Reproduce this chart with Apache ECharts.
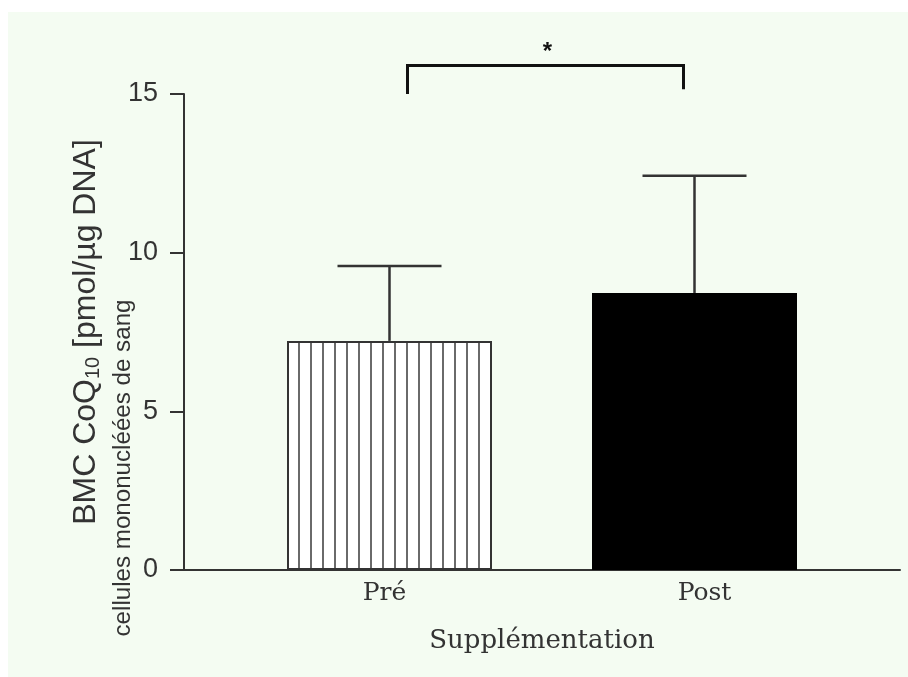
<!DOCTYPE html>
<html>
<head>
<meta charset="utf-8">
<script src="https://cdn.jsdelivr.net/npm/echarts@6/dist/echarts.min.js"></script>
<style>
  html, body { margin: 0; padding: 0; background: #fff; }
  #chart { width: 908px; height: 677px; }
</style>
</head>
<body>
<div id="chart"></div>
<script>
// données
const categories = ['Pré', 'Post']
const means = [7.22, 8.73]
const upperErr = [9.58, 12.42]
const yTicks = [0, 5, 10, 15]
// crochet de significativité : de Pré à Post, hauteur 15.9, pieds à 15
const sigBracket = [[0, 1, 15.9, 15.0, 15.15]]
const sigLabel = '*'

// hachures verticales pour la barre "Pré"
function stripePattern() {
  const c = document.createElement('canvas')
  c.width = 12
  c.height = 12
  const ctx = c.getContext('2d')
  ctx.fillStyle = '#ffffff'
  ctx.fillRect(0, 0, 12, 12)
  ctx.fillStyle = '#6a6a6a'
  ctx.fillRect(10, 0, 2, 12)
  return c
}

const chart = echarts.init(document.getElementById('chart'))

const grids = [
  { left: 184, right: 8, top: 94, bottom: 107 },
  { left: 237, right: 61, top: 94, bottom: 107 },
]

const option = {
  animation: false,
  graphic: [
    {
      type: 'rect',
      z: -10,
      shape: { x: 8, y: 12, width: 900, height: 665 },
      style: { fill: '#f4fcf2' },
    },
    {
      type: 'text',
      x: 86,
      y: 332,
      rotation: Math.PI / 2,
      style: {
        text: '{a|BMC CoQ}{s|10}{a| [pmol/µg DNA]}',
        textAlign: 'center',
        textVerticalAlign: 'middle',
        fill: '#333',
        rich: {
          a: { fontFamily: 'Liberation Sans', fontSize: 32, fill: '#333' },
          s: { fontFamily: 'Liberation Sans', fontSize: 20, fill: '#333', padding: [15, 0, 0, 0] },
        },
      },
    },
    {
      type: 'text',
      x: 124,
      y: 468,
      rotation: Math.PI / 2,
      scaleX: 1.05,
      style: {
        text: 'cellules mononucléées de sang',
        fontFamily: 'Liberation Sans',
        fontSize: 23,
        fill: '#333',
        textAlign: 'center',
        textVerticalAlign: 'middle',
      },
    },
  ],
  grid: grids,
  xAxis: [
    {
      type: 'value',
      gridIndex: 0,
      min: 0,
      max: 1,
      axisLine: { show: true, lineStyle: { color: '#333', width: 2 } },
      axisTick: { show: false },
      axisLabel: { show: false },
      splitLine: { show: false },
      name: 'Supplémentation',
      nameLocation: 'middle',
      nameGap: 58,
      nameTextStyle: { fontFamily: 'DejaVu Serif', fontSize: 26, color: '#333' },
    },
    {
      type: 'category',
      gridIndex: 1,
      data: categories,
      axisLine: { show: false },
      axisTick: { show: false },
      axisLabel: {
        margin: 11,
        formatter: (v, i) => (i === 0 ? '{pre|' + v + '}' : '{post|' + v + '}'),
        rich: {
          pre: { fontFamily: 'DejaVu Serif', fontSize: 25, color: '#333', padding: [0, 10, 0, 0] },
          post: { fontFamily: 'DejaVu Serif', fontSize: 25, color: '#333', padding: [0, 0, 0, 20] },
        },
      },
    },
  ],
  yAxis: [
    {
      type: 'value',
      gridIndex: 0,
      min: yTicks[0],
      max: yTicks[yTicks.length - 1],
      interval: 5,
      axisLine: { show: true, lineStyle: { color: '#333', width: 2 } },
      axisTick: { show: true, inside: false, length: 14, lineStyle: { color: '#333', width: 2 } },
      axisLabel: { margin: 26, fontFamily: 'Liberation Sans', fontSize: 27, color: '#333' },
      splitLine: { show: false },
    },
    {
      type: 'value',
      gridIndex: 1,
      min: yTicks[0],
      max: yTicks[yTicks.length - 1],
      interval: 5,
      show: false,
    },
  ],
  series: [
    {
      type: 'bar',
      xAxisIndex: 1,
      yAxisIndex: 1,
      barWidth: 205,
      data: [
        {
          value: means[0],
          itemStyle: {
            color: { image: stripePattern(), repeat: 'repeat' },
            borderColor: '#333',
            borderWidth: 2,
          },
        },
        { value: means[1], itemStyle: { color: '#000' } },
      ],
    },
    {
      // barres d'erreur (uniquement vers le haut)
      type: 'custom',
      xAxisIndex: 1,
      yAxisIndex: 1,
      z: 5,
      data: categories.map((c, i) => [i, means[i], upperErr[i]]),
      renderItem: (params, api) => {
        const base = api.coord([api.value(0), api.value(1)])
        const top = api.coord([api.value(0), api.value(2)])
        const half = 52
        const style = { stroke: '#333', lineWidth: 2.5 }
        return {
          type: 'group',
          children: [
            { type: 'line', shape: { x1: base[0], y1: base[1], x2: top[0], y2: top[1] }, style },
            { type: 'line', shape: { x1: top[0] - half, y1: top[1], x2: top[0] + half, y2: top[1] }, style },
          ],
        }
      },
    },
    {
      // crochet + astérisque
      type: 'custom',
      xAxisIndex: 1,
      yAxisIndex: 1,
      z: 5,
      clip: false,
      data: sigBracket,
      renderItem: (params, api) => {
        const l = api.coord([api.value(0), api.value(2)])
        const r = api.coord([api.value(1), api.value(2)])
        const lf = api.coord([api.value(0), api.value(3)])
        const rf = api.coord([api.value(1), api.value(4)])
        const x1 = l[0] + 18
        const x2 = r[0] - 11
        const style = { stroke: '#111', lineWidth: 3, fill: 'none' }
        return {
          type: 'group',
          children: [
            {
              type: 'polyline',
              shape: { points: [[x1, lf[1]], [x1, l[1]], [x2, l[1]], [x2, rf[1]]] },
              style,
            },
            {
              type: 'text',
              x: (x1 + x2) / 2 + 2,
              y: l[1] - 13,
              style: {
                text: sigLabel,
                fontFamily: 'Liberation Sans',
                fontWeight: 'bold',
                fontSize: 24,
                fill: '#111',
                textAlign: 'center',
                textVerticalAlign: 'middle',
              },
            },
          ],
        }
      },
    },
  ],
}

chart.setOption(option)
</script>
</body>
</html>
